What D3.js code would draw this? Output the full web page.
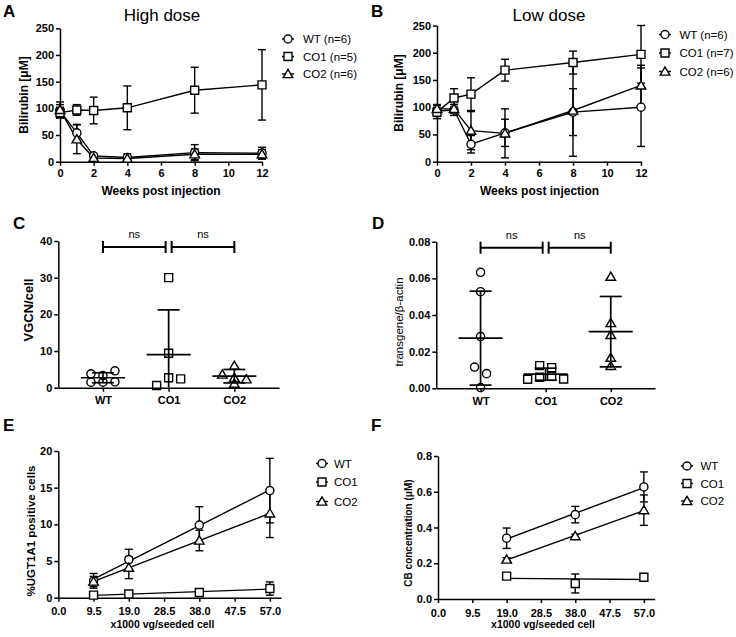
<!DOCTYPE html>
<html>
<head>
<meta charset="utf-8">
<script src="https://cdn.jsdelivr.net/npm/d3@7"></script>
<style>
  body { margin: 0; background: #fff; }
</style>
</head>
<body>
<div id="chart"></div>
<script>
let groups = ["WT", "CO1", "CO2"];

// A / B: bilirubin after injection, mean and SD per group
let weeks = [0, 1, 2, 4, 8, 12];
let weekTicks = [0, 2, 4, 6, 8, 10, 12];
let bilirubinTicks = [0, 50, 100, 150, 200, 250];

let highN = [6, 5, 6];
let highMean = [
    [95, 54, 11, 8, 17, 16],
    [92, 97, 96, 101, 134, 144],
    [97, 42, 7, 6, 14, 14]
];
let highSD = [
    [12, 16, 4, 7, 15, 11],
    [10, 10, 25, 41, 43, 66],
    [15, 27, 3, 5, 10, 9]
];

let lowN = [6, 7, 6];
let lowMean = [
    [93, 95, 32, 53, 91, 100],
    [91, 117, 124, 168, 182, 197],
    [97, 97, 57, 52, 94, 140]
];
let lowSD = [
    [10, 10, 16, 25, 43, 72],
    [12, 17, 30, 20, 21, 53],
    [8, 8, 35, 45, 84, 37]
];

// C / D: single animals
let vgcn = [
    [3.8, 3.3, 4.6, 1.5, 1.5, 1.6],
    [0.6, 30, 9.4, 2.7, 2.4],
    [3.6, 6, 1.1, 2.7, 2.3]
];
let vgcnTicks = [0, 10, 20, 30, 40];

let transgene = [
    [0.0633, 0.0527, 0.0282, 0.0116, 0.008, 0.0004],
    [0.0124, 0.0113, 0.0049, 0.006, 0.0065, 0.0051],
    [0.0609, 0.0356, 0.0291, 0.0167, 0.0122]
];
let transgeneTicks = [0, 0.02, 0.04, 0.06, 0.08];

// E / F: in vitro dose response
let doseTicks = [0, 9.5, 19, 28.5, 38, 47.5, 57];

let doseE = [9.5, 19, 38, 57];
let ugtMean = [
    [2.3, 5.2, 9.9, 14.6],
    [0.35, 0.5, 0.7, 1.25],
    [2.2, 4.1, 7.8, 11.5]
];
let ugtSD = [
    [1.0, 1.4, 2.5, 4.4],
    [0.2, 0.2, 0.3, 0.9],
    [0.7, 1.5, 1.4, 3.3]
];
let ugtTicks = [0, 5, 10, 15, 20];

let doseF = [19, 38, 57];
let cbMean = [
    [0.34, 0.472, 0.627],
    [0.128, 0.087, 0.122],
    [0.221, 0.352, 0.497]
];
let cbSD = [
    [0.057, 0.046, 0.084],
    [0.008, 0.053, 0.008],
    [0.01, 0.01, 0.085]
];
let cbTicks = [0, 0.2, 0.4, 0.6, 0.8];

let font = "'Liberation Sans', Arial, Helvetica, sans-serif";
let width = 736,
    height = 637;

let svg = d3.select("#chart")
    .append("svg")
    .attr("width", width)
    .attr("height", height)
    .style("font-family", font);

// hollow symbols, centred on their box
function symPath(i) {
    if (i == 0) return d3.symbol().type(d3.symbolCircle).size(52)();
    if (i == 1) return "M-4,-4H4V4H-4Z";
    return "M0,-4.6L4.8,3.6H-4.8Z";
}

function styleAxis(g) {
    g.attr("font-family", null);
    g.select(".domain").attr("stroke-width", 1.5);
    g.selectAll(".tick line").attr("stroke-width", 1.5);
    g.selectAll(".tick text")
        .attr("font-size", 11)
        .attr("font-weight", "bold")
        .attr("fill", "#000");
}

function label(txt, x, y, opt) {
    opt = opt || {};
    let t = svg.append("text")
        .attr("x", x)
        .attr("y", y)
        .attr("font-size", opt.size || 12)
        .attr("font-weight", opt.weight || "bold")
        .attr("text-anchor", opt.anchor || "middle")
        .text(txt);
    if (opt.rotate) t.attr("transform", "rotate(-90," + x + "," + y + ")");
    return t;
}

function axes(b, x, y, xTicks, yTicks, xFmt, yFmt, xPad) {
    let xa = d3.axisBottom(x).tickSize(4).tickSizeOuter(0).tickPadding(xPad);
    if (xTicks) xa.tickValues(xTicks);
    if (xFmt) xa.tickFormat(xFmt);
    svg.append("g")
        .attr("transform", "translate(0," + b.y0 + ")")
        .call(xa)
        .call(styleAxis);
    let ya = d3.axisLeft(y).tickValues(yTicks).tickSize(4).tickSizeOuter(0).tickPadding(2);
    if (yFmt) ya.tickFormat(yFmt);
    svg.append("g")
        .attr("transform", "translate(" + b.x0 + ",0)")
        .call(ya)
        .call(styleAxis);
}

function errBar(g, px, y, m, sd, cap) {
    let lo = m - sd;
    g.append("line")
        .attr("x1", px).attr("x2", px)
        .attr("y1", y(Math.max(lo, 0))).attr("y2", y(m + sd));
    g.append("line")
        .attr("x1", px - cap).attr("x2", px + cap)
        .attr("y1", y(m + sd)).attr("y2", y(m + sd));
    if (lo >= 0) {
        g.append("line")
            .attr("x1", px - cap).attr("x2", px + cap)
            .attr("y1", y(lo)).attr("y2", y(lo));
    }
}

function legend(lx, tx, ys, names) {
    names.forEach(function(n, i) {
        svg.append("line")
            .attr("x1", lx - 6).attr("x2", lx + 6)
            .attr("y1", ys[i]).attr("y2", ys[i])
            .attr("stroke", "#000").attr("stroke-width", 1.4);
        svg.append("path")
            .attr("d", symPath(i))
            .attr("transform", "translate(" + lx + "," + ys[i] + ")")
            .attr("fill", "#fff").attr("stroke", "#000").attr("stroke-width", 1.4);
        label(n, tx, ys[i] + 4, {size: 11.5, weight: "normal", anchor: "start"});
    });
}

// panels A and B
function timePanel(b, means, sds) {
    let x = d3.scaleLinear().domain([0, 12]).range([b.x0, b.x1]);
    let y = d3.scaleLinear().domain([0, 250]).range([b.y0, b.y1]);
    axes(b, x, y, weekTicks, bilirubinTicks, null, null, 4);

    let g = svg.append("g").attr("stroke", "#000").attr("stroke-width", 1.4).attr("fill", "none");
    let line = d3.line().x(function(d, i) { return x(weeks[i]); }).y(function(d) { return y(d); });
    means.forEach(function(m, s) {
        g.append("path").attr("d", line(m));
        m.forEach(function(v, i) { errBar(g, x(weeks[i]), y, v, sds[s][i], 4); });
    });
    means.forEach(function(m, s) {
        g.selectAll(null)
            .data(m)
            .enter()
            .append("path")
            .attr("d", symPath(s))
            .attr("fill", "#fff")
            .attr("transform", function(d, i) { return "translate(" + x(weeks[i]) + "," + y(d) + ")"; });
    });
}

// spread points that sit at nearly the same height
function spread(vals, y, step, gap) {
    let order = d3.range(vals.length).sort(function(a, b) { return vals[b] - vals[a]; });
    let rows = [];
    order.forEach(function(i) {
        let r = rows[rows.length - 1];
        if (r && Math.abs(y(vals[r[0]]) - y(vals[i])) < gap) r.push(i);
        else rows.push([i]);
    });
    let off = [];
    rows.forEach(function(r) {
        r.sort(d3.ascending);
        r.forEach(function(i, k) { off[i] = (k - (r.length - 1) / 2) * step; });
    });
    return off;
}

// panels C and D
function scatterPanel(b, values, ticks, fmt) {
    let x = d3.scalePoint().domain(groups).range([b.x0, b.x1]).padding(0.68);
    let yMax = ticks[ticks.length - 1];
    let y = d3.scaleLinear().domain([0, yMax]).range([b.y0, b.y1]);
    axes(b, x, y, null, ticks, null, fmt, 5);

    let g = svg.append("g").attr("stroke", "#000").attr("fill", "none");
    values.forEach(function(vals, s) {
        let cx = x(groups[s]);
        let off = spread(vals, y, 12, 8);
        g.selectAll(null)
            .data(vals)
            .enter()
            .append("path")
            .attr("d", symPath(s))
            .attr("stroke-width", 1.4)
            .attr("transform", function(d, i) { return "translate(" + (cx + off[i]) + "," + y(d) + ")"; });
        let m = d3.mean(vals), sd = d3.deviation(vals);
        let eg = g.append("g").attr("stroke-width", 1.7);
        eg.append("line")
            .attr("x1", cx - 22).attr("x2", cx + 22)
            .attr("y1", y(m)).attr("y2", y(m));
        errBar(eg, cx, y, m, sd, 11);
    });

    // significance brackets
    let by = y(yMax) + 6;
    let pairs = [[x(groups[0]), x(groups[1]) - 3], [x(groups[1]) + 3, x(groups[2])]];
    pairs.forEach(function(p) {
        let bg = g.append("g").attr("stroke-width", 2);
        bg.append("line").attr("x1", p[0]).attr("x2", p[1]).attr("y1", by).attr("y2", by);
        bg.append("line").attr("x1", p[0]).attr("x2", p[0]).attr("y1", by - 6).attr("y2", by + 6);
        bg.append("line").attr("x1", p[1]).attr("x2", p[1]).attr("y1", by - 6).attr("y2", by + 6);
        label("ns", (p[0] + p[1]) / 2, by - 9, {size: 11, weight: "normal"});
    });
}

// least squares fit drawn over the dose range
function fit(xs, ys) {
    let mx = d3.mean(xs), my = d3.mean(ys);
    let sxy = d3.sum(xs, function(v, i) { return (v - mx) * (ys[i] - my); });
    let sxx = d3.sum(xs, function(v) { return (v - mx) * (v - mx); });
    let k = sxy / sxx;
    return function(v) { return my + k * (v - mx); };
}

// panels E and F
function dosePanel(b, dose, means, sds, ticks, yFmt, xPad) {
    let x = d3.scaleLinear().domain([0, 60]).range([b.x0, b.x1]);
    let y = d3.scaleLinear().domain([0, ticks[ticks.length - 1]]).range([b.y0, b.y1]);
    axes(b, x, y, doseTicks, ticks, d3.format(".1f"), yFmt, xPad);

    let g = svg.append("g").attr("stroke", "#000").attr("stroke-width", 1.4).attr("fill", "none");
    means.forEach(function(m, s) {
        let f = fit(dose, m);
        let x0 = dose[0], x1 = dose[dose.length - 1];
        g.append("line")
            .attr("x1", x(x0)).attr("y1", y(f(x0)))
            .attr("x2", x(x1)).attr("y2", y(f(x1)));
        m.forEach(function(v, i) { errBar(g, x(dose[i]), y, v, sds[s][i], 4); });
    });
    means.forEach(function(m, s) {
        g.selectAll(null)
            .data(m)
            .enter()
            .append("path")
            .attr("d", symPath(s))
            .attr("fill", "#fff")
            .attr("transform", function(d, i) { return "translate(" + x(dose[i]) + "," + y(d) + ")"; });
    });
}

let boxA = {x0: 60, x1: 262, y0: 161.7, y1: 28.3},
    boxB = {x0: 437, x1: 641, y0: 161.7, y1: 25.5},
    boxC = {x0: 58.3, x1: 279, y0: 387.7, y1: 241},
    boxD = {x0: 436.3, x1: 655, y0: 388.3, y1: 241.7},
    boxE = {x0: 58.3, x1: 281, y0: 597.7, y1: 451},
    boxF = {x0: 438, x1: 654.7, y0: 599, y1: 456};

timePanel(boxA, highMean, highSD);
timePanel(boxB, lowMean, lowSD);
scatterPanel(boxC, vgcn, vgcnTicks, d3.format("d"));
scatterPanel(boxD, transgene, transgeneTicks, d3.format(".2f"));
dosePanel(boxE, doseE, ugtMean, ugtSD, ugtTicks, d3.format("d"), 6);
dosePanel(boxF, doseF, cbMean, cbSD, cbTicks, d3.format(".1f"), 6);

// titles and axis labels
label("High dose", 162, 20.5, {size: 17, weight: "normal"});
label("Low dose", 549, 20.5, {size: 17, weight: "normal"});
label("Weeks post injection", 161, 195);
label("Weeks post injection", 539.5, 195);
label("Bilirubin [\u03bcM]", 27.5, 95, {rotate: true});
label("Bilirubin [\u03bcM]", 402.5, 93, {rotate: true});
label("VGCN/cell", 33, 310, {rotate: true, size: 13});
label("transgene/\u03b2-actin", 403, 322, {rotate: true, weight: "normal", size: 11.5});
label("%UGT1A1 positive cells", 35, 531, {rotate: true, size: 11.5});
label("CB concentration  (\u03bcM)", 411.5, 533, {rotate: true, size: 10});
label("x1000 vg/seeded cell", 162.5, 628, {size: 10.5});
label("x1000 vg/seeded cell", 543, 628, {size: 10.5});

// legends
legend(288, 303, [39, 56.5, 74], groups.map(function(d, i) { return d + " (n=" + highN[i] + ")"; }));
legend(665, 679.5, [34.5, 53, 71.5], groups.map(function(d, i) { return d + " (n=" + lowN[i] + ")"; }));
legend(322, 334, [463.5, 482, 501.5], groups);
legend(687, 700.5, [466, 483.5, 501], groups);

// panel letters
[["A", 3, 17], ["B", 371, 17], ["C", 13, 228.5], ["D", 372, 228.5], ["E", 3, 430.5], ["F", 371, 431]]
    .forEach(function(d) { label(d[0], d[1], d[2], {size: 17, anchor: "start"}); });
</script>
</body>
</html>
